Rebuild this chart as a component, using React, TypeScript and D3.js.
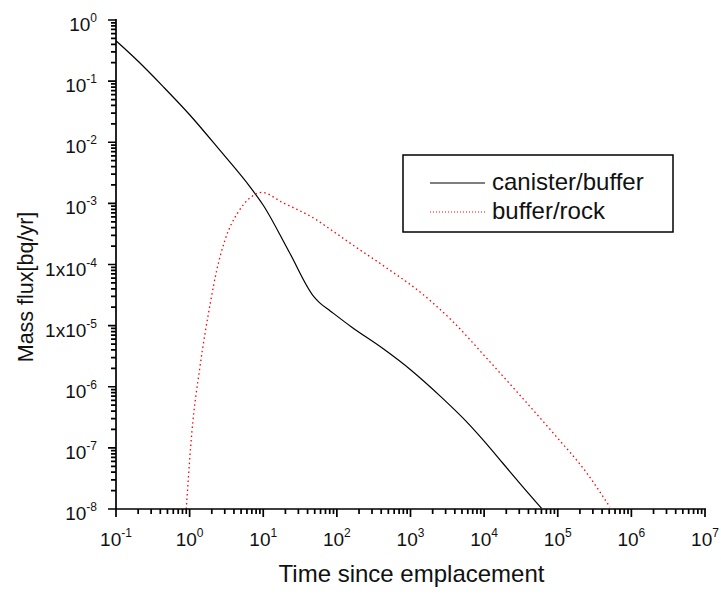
import { useMemo } from "react";
import * as d3 from "d3";

// canister/buffer curve (time in years, flux in bq/yr)
const canisterTime = [0.1, 0.2, 0.437, 1, 2.57, 6.61, 10, 22.4, 49, 57.5, 81.3, 158, 427, 1000, 2512, 5754, 10000, 18200, 31600, 60300];
const canisterFlux = [0.457, 0.211, 0.0813, 0.0282, 0.00741, 0.00186, 0.000933, 0.000162, 2.95e-5, 2.4e-5, 1.74e-5, 9.5e-6, 4.17e-6, 1.9e-6, 7.1e-7, 2.69e-7, 1.29e-7, 5.5e-8, 2.5e-8, 1.02e-8];

// buffer/rock curve
const rockTime = [0.9, 0.923, 1.07, 1.38, 1.91, 2.34, 3.02, 4.57, 6.61, 9.55, 18.6, 50.1, 85.1, 151, 479, 1413, 3802, 10965, 30900, 87100, 251000, 513000];
const rockFlux = [1.0e-8, 1.58e-8, 1.74e-7, 2.09e-6, 2.34e-5, 8.13e-5, 2.51e-4, 7.24e-4, 1.23e-3, 1.51e-3, 1.02e-3, 5.6e-4, 3.63e-4, 2.24e-4, 8.7e-5, 3.39e-5, 1.15e-5, 2.88e-6, 7.2e-7, 1.74e-7, 3.8e-8, 1.07e-8];

// tick labels
const xExponents = [-1, 0, 1, 2, 3, 4, 5, 6, 7];
const yExponents = [0, -1, -2, -3, -4, -5, -6, -7, -8];
const yPrefix = ["", "", "", "", "1x", "1x", "", "", ""];

const seriesNames = ["canister/buffer", "buffer/rock"];

const W = 721, H = 594;
const margin = { left: 116, right: 16, top: 20, bottom: 85 };
const font = "'Liberation Sans', Arial, sans-serif";

const tickValues = (lo: number, hi: number) => {
  const out: number[] = [];
  for (let e = lo; e <= hi; e++) for (let m = 1; m <= 9; m++) {
    if (e === hi && m > 1) break;
    out.push(m * Math.pow(10, e));
  }
  return out;
};

export default function App() {
  const x = d3.scaleLog().domain([1e-1, 1e7]).range([margin.left, W - margin.right]);
  const y = d3.scaleLog().domain([1e-8, 1]).range([H - margin.bottom, margin.top]);

  const line = d3.line<[number, number]>()
    .x((d) => x(d[0]))
    .y((d) => y(d[1]))
    .curve(d3.curveMonotoneX);

  const canister = useMemo(() => canisterTime.map((t, i) => [t, canisterFlux[i]] as [number, number]), []);
  const rock = useMemo(() => rockTime.map((t, i) => [t, rockFlux[i]] as [number, number]), []);

  const x0 = x.range()[0], x1 = x.range()[1];
  const yb = y.range()[0], yt = y.range()[1];

  // one continuous axis outline: down the y axis, along the x axis, with tick excursions
  const isMajor = (v: number) => Math.abs(Math.log10(v) - Math.round(Math.log10(v))) < 1e-9;
  let axisD = `M${x0},${yt - 1}`;
  tickValues(-8, 0).reverse().forEach((v) => {
    const len = isMajor(v) ? 8 : 5;
    const py = y(v);
    axisD += `V${py}H${x0 - len}H${x0}`;
  });
  axisD += `V${yb}`;
  tickValues(-1, 7).forEach((v) => {
    const len = isMajor(v) ? 8 : 5;
    const px = x(v);
    axisD += `H${px}V${yb + len}V${yb}`;
  });
  axisD += `H${x1 + 1}`;

  return (
    <svg width={W} height={H} style={{ position: "absolute", left: 0, top: 0, background: "#fff" }} fontFamily={font}>
      <path d={line(canister) || ""} fill="none" stroke="#000" strokeWidth={1.2} />
      <path d={line(rock) || ""} fill="none" stroke="#ff0000" strokeWidth={1.3} strokeDasharray="1.5 3" />

      <path d={axisD} fill="none" stroke="#000" strokeWidth={1.7} strokeLinejoin="miter" />

      {xExponents.map((e) => (
        <text key={"x" + e} x={x(Math.pow(10, e))} y={546} textAnchor="middle" fontSize={19} fill="#111">
          10<tspan fontSize={12} dy={-9}>{e}</tspan>
        </text>
      ))}
      {yExponents.map((e, i) => (
        <text key={"y" + e} x={97} y={y(Math.pow(10, e)) + 11} textAnchor="end" fontSize={19} fill="#111">
          {yPrefix[i]}10<tspan fontSize={12} dy={-9}>{e}</tspan>
        </text>
      ))}

      {/* axis titles */}
      <text x={(x0 + x1) / 2 + 1} y={582} textAnchor="middle" fontSize={24} fill="#111">
        Time since emplacement
      </text>
      <text transform={`translate(33, 287) rotate(-90)`} textAnchor="middle" fontSize={21.5} fill="#111">
        Mass flux[bq/yr]
      </text>

      {/* legend */}
      <rect x={403} y={155} width={270} height={77} fill="#fff" stroke="#000" strokeWidth={1.5} />
      <line x1={430} x2={485} y1={183} y2={183} stroke="#000" strokeWidth={1.2} />
      <text x={492} y={190} fontSize={24} fill="#111">{seriesNames[0]}</text>
      <line x1={430} x2={485} y1={212} y2={212} stroke="#ff0000" strokeWidth={1.2} strokeDasharray="1 2" />
      <text x={492} y={219} fontSize={24} fill="#111">{seriesNames[1]}</text>
    </svg>
  );
}
